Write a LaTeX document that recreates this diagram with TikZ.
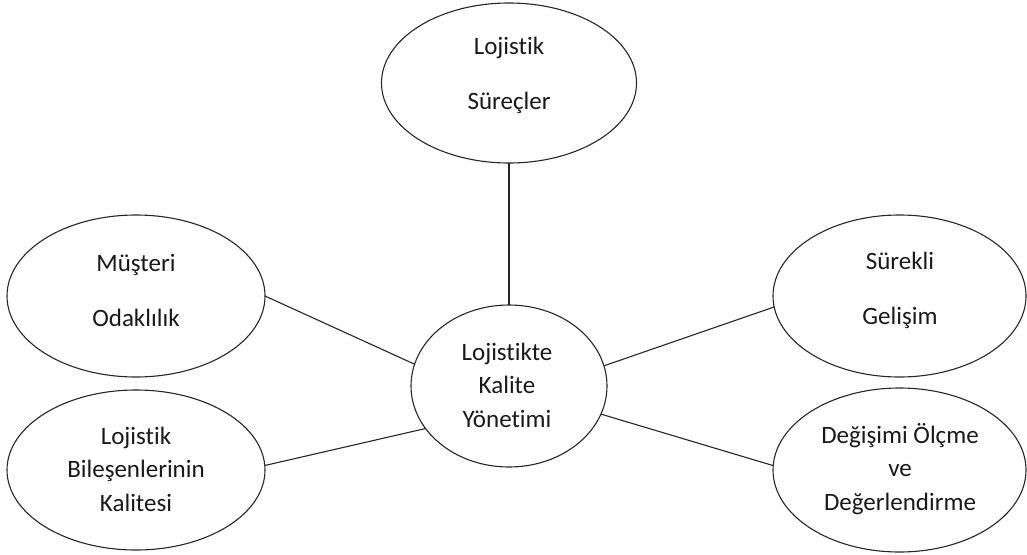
\documentclass[tikz,border=0pt]{standalone}
\usepackage{fontspec}
\setmainfont{Carlito}[Ligatures={NoCommon,NoContextual}]
\usetikzlibrary{shapes.geometric}
\begin{document}
\begin{tikzpicture}[x=1pt,y=-1pt,
  bubble/.style={ellipse,draw=black!85,line width=1.1pt,inner sep=0pt,outer sep=0pt},
  twoline/.style={align=center,inner sep=0pt,font=\fontsize{25}{55}\selectfont,text=black!90},
  threeline/.style={align=center,inner sep=0pt,font=\fontsize{25}{33.5}\selectfont,text=black!90},
  link/.style={draw=black!85,line width=1.1pt}]
\useasboundingbox (0,0) rectangle (1027,554);
% outline of each bubble
\node[bubble,minimum width=255pt,minimum height=160pt] (t)  at (509,83)  {};
\node[bubble,minimum width=196pt,minimum height=162pt] (c)  at (509,386) {};
\node[bubble,minimum width=258pt,minimum height=162pt] (lt) at (136,296) {};
\node[bubble,minimum width=258pt,minimum height=160pt] (lb) at (136,470) {};
\node[bubble,minimum width=253pt,minimum height=162pt] (rt) at (899.5,296) {};
\node[bubble,minimum width=253pt,minimum height=164pt] (rb) at (899.5,470) {};
% labels
\node[twoline]   (tt)  at (509,75.5)  {Lojistik\\Süreçler};
\node[threeline] (ct)  at (507,385)   {Lojistikte\\Kalite\\Yönetimi};
\node[twoline]   (ltt) at (136,290.5) {Müşteri\\Odaklılık};
\node[threeline] (lbt) at (136,469)   {Lojistik\\Bileşenlerinin\\Kalitesi};
\node[twoline]   (rtt) at (900,290.5) {Sürekli\\Gelişim};
\node[threeline] (rbt) at (900,469)   {Değişimi Ölçme\\ve\\Değerlendirme};
% connectors
\draw[link] (t.south) -- (c.north);
\draw[link] (lt.east) -- (c.167);
\draw[link] (lb.2) -- (c.207.5);
\draw[link] (c.12) -- (rt.185);
\draw[link] (c.343.5) -- (rb.178);
\end{tikzpicture}
\end{document}
